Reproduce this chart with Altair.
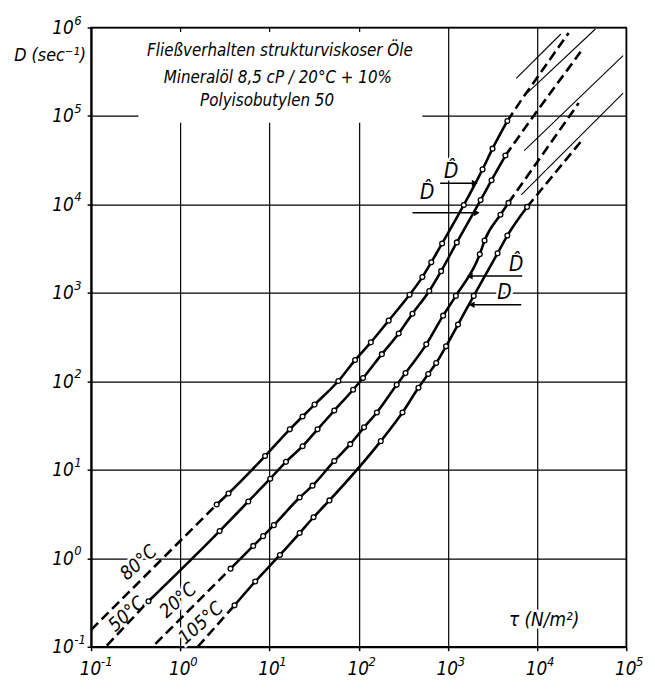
import altair as alt
import pandas as pd

FONT = "Liberation Sans Narrow, DejaVu Sans Condensed, Liberation Sans, sans-serif"

# ---------------- data ----------------
x_ticks = [0.1, 1, 10, 100, 1000, 10000, 100000]
y_ticks = [0.1, 1, 10, 100, 1000, 10000, 100000, 1000000]
x_exp = ["-1", "0", "1", "2", "3", "4", "5"]
y_exp = ["-1", "0", "1", "2", "3", "4", "5", "6"]

curves = ["A", "B", "C", "D"]

# dashed low-stress extensions
A_low_tau = [0.1, 2.56]
A_low_D = [0.155, 4.06]
B_low_tau = [0.15, 0.44]
B_low_D = [0.103, 0.327]
C_low_tau = [0.526, 3.66]
C_low_D = [0.108, 0.763]
D_low_tau = [1.57, 4.06]
D_low_D = [0.1, 0.294]

# measured points (solid curves with open circles)
A_tau = [2.56, 3.47, 8.93, 16.9, 23.5, 32.0, 59.2, 91.2, 137, 217, 372, 518, 652, 863, 1510, 2450, 3170, 4650]
A_D = [4.06, 5.40, 14.3, 28.7, 40.1, 54.6, 101, 174, 276, 486, 951, 1510, 2220, 3620, 9860, 24900, 42700, 87900]
B_tau = [0.44, 2.76, 5.79, 10.2, 15.3, 23.5, 34.6, 53.3, 86.7, 112, 182, 281, 401, 619, 841, 1260, 2330, 3090, 4420]
B_D = [0.327, 2.03, 4.39, 7.93, 12.3, 18.5, 28.7, 46.8, 80.4, 109, 203, 348, 582, 1050, 1760, 3720, 11200, 18800, 35700]
C_tau = [3.66, 6.58, 8.49, 11.2, 21.8, 30.4, 53.3, 80.4, 115, 160, 267, 335, 573, 885, 1230, 2280, 2580, 3890, 4780]
C_D = [0.763, 1.38, 1.78, 2.37, 4.86, 6.62, 12.6, 19.5, 30.2, 44.5, 91.4, 124, 262, 553, 925, 2730, 3910, 7640, 10400]
D_tau = [4.06, 6.92, 13.1, 21.8, 31.2, 47.0, 177, 310, 468, 603, 740, 955, 1300, 1950, 3610, 4650, 7740]
D_D = [0.294, 0.546, 1.09, 1.93, 2.91, 4.51, 21.1, 44.5, 84.5, 121, 161, 249, 439, 925, 2800, 4450, 9380]

# dashed high-stress extensions
A_high_tau = [4650, 6650, 22600]
A_high_D = [87900, 151000, 869000]
B_high_tau = [4420, 8810, 30800]
B_high_D = [35700, 95100, 532000]
C_high_tau = [4780, 29300]
C_high_D = [10400, 140000]
D_high_tau = [7740, 31600]
D_high_D = [9380, 52600]

# thin asymptote lines (D-hat)
thin_tau_start = [5850, 7740, 7180, 6650]
thin_D_start = [266000, 181000, 40600, 12800]
thin_tau_end = [18500, 45100, 92300, 92300]
thin_D_end = [845000, 962000, 481000, 181000]

# temperature labels
temp_labels = ["80°C", "50°C", "20°C", "105°C"]
temp_tau = [0.340, 0.251, 0.946, 1.70]
temp_D = [0.891, 0.234, 0.335, 0.185]

# title block
title_lines = ["Fließverhalten strukturviskoser Öle", "Mineralöl 8,5 cP / 20°C + 10%", "Polyisobutylen 50"]
title_tau = [13.1, 12.4, 9.4]
title_D = [546000, 266000, 147000]

# annotations
ann_text = ["D̂", "D̂", "D̂", "D"]
ann_tau = [1090, 587, 5850, 4300]
ann_D = [23100, 13400, 2060, 1000]
arrow_tau_start = [820, 401, 6820, 6650]
arrow_tau_end = [2000, 2110, 1760, 1850]
arrow_D = [17400, 8040, 1550, 735]
arrow_shape = ["triangle-right", "triangle-right", "triangle-left", "triangle-left"]

x_title = "τ (N/m²)"
x_title_tau = [12000]
x_title_D = [0.200]

# white area behind the title block (grid lines interrupted there)
mask_tau = [0.34]
mask_tau2 = [518]
mask_D = [83600]
mask_D2 = [891000]

# ---------------- build tables ----------------
low = {"A": (A_low_tau, A_low_D), "B": (B_low_tau, B_low_D), "C": (C_low_tau, C_low_D), "D": (D_low_tau, D_low_D)}
mid = {"A": (A_tau, A_D), "B": (B_tau, B_D), "C": (C_tau, C_D), "D": (D_tau, D_D)}
high = {"A": (A_high_tau, A_high_D), "B": (B_high_tau, B_high_D), "C": (C_high_tau, C_high_D), "D": (D_high_tau, D_high_D)}

dash_rows, solid_rows = [], []
for c in curves:
    for part, src in (("low", low), ("high", high)):
        t, d = src[c]
        for i, (a, b) in enumerate(zip(t, d)):
            dash_rows.append({"seg": c + part, "ord": i, "tau": a, "D": b})
    t, d = mid[c]
    for i, (a, b) in enumerate(zip(t, d)):
        solid_rows.append({"seg": c, "ord": i, "tau": a, "D": b})
dash_df = pd.DataFrame(dash_rows)
solid_df = pd.DataFrame(solid_rows)

thin_df = pd.DataFrame({"tau": thin_tau_start, "tau2": thin_tau_end, "D": thin_D_start, "D2": thin_D_end})
temp_df = pd.DataFrame({"label": temp_labels, "tau": temp_tau, "D": temp_D})
title_df = pd.DataFrame({"label": title_lines, "tau": title_tau, "D": title_D})
ann_df = pd.DataFrame({"label": ann_text, "tau": ann_tau, "D": ann_D})
arrow_df = pd.DataFrame({"tau": arrow_tau_start, "tau2": arrow_tau_end, "D": arrow_D})
head_df = pd.DataFrame({"tau": arrow_tau_end, "D": arrow_D, "shape": arrow_shape})
xt_df = pd.DataFrame({"label": [x_title], "tau": x_title_tau, "D": x_title_D})
mask_df = pd.DataFrame({"tau": mask_tau, "tau2": mask_tau2, "D": mask_D, "D2": mask_D2})
xexp_df = pd.DataFrame({"label": x_exp, "tau": x_ticks, "D": [y_ticks[0]] * len(x_ticks)})
yexp_df = pd.DataFrame({"label": y_exp, "tau": [x_ticks[0]] * len(y_ticks), "D": y_ticks})

# ---------------- scales / axes ----------------
x_axis = alt.Axis(values=x_ticks, labelExpr="'10'", title=None, grid=True,
                  labelAlign="center", labelOffset=-1, labelPadding=9, labelBaseline="top",
                  labelFlush=False, labelOverlap=False)
y_axis = alt.Axis(values=y_ticks, labelExpr="'10'", title="D (sec⁻¹)", grid=True,
                  labelAlign="right", labelBaseline="middle", labelPadding=14,
                  labelFlush=False, labelOverlap=False,
                  titleAngle=0, titleX=-42, titleY=28, titleAlign="center", titleBaseline="middle",
                  titleFont=FONT, titleFontSize=18, titleFontStyle="italic", titleFontWeight="normal",
                  titleColor="black")

xs = alt.Scale(type="log", domain=[0.1, 100000], nice=False)
ys = alt.Scale(type="log", domain=[0.1, 1000000], nice=False)
X = alt.X("tau:Q", scale=xs, axis=x_axis)
Y = alt.Y("D:Q", scale=ys, axis=y_axis)

mask = alt.Chart(mask_df).mark_rect(fill="white").encode(x=X, x2="tau2:Q", y=Y, y2="D2:Q")

thin = alt.Chart(thin_df).mark_rule(color="black", strokeWidth=1.1).encode(x=X, x2="tau2:Q", y=Y, y2="D2:Q")

dashed = alt.Chart(dash_df).mark_line(color="black", strokeWidth=2.6, strokeDash=[10, 5]).encode(
    x=X, y=Y, detail="seg:N", order="ord:Q")

solid = alt.Chart(solid_df).mark_line(color="black", strokeWidth=2.6, interpolate="monotone").encode(
    x=X, y=Y, detail="seg:N", order="ord:Q")

dots = alt.Chart(solid_df).mark_point(shape="circle", filled=True, fill="white", stroke="black",
                                      strokeWidth=1.3, size=24, opacity=1).encode(x=X, y=Y)


def text_layer(df, size, angle=0, halo=False, align="center", dx=0, dy=0):
    kw = dict(font=FONT, fontSize=size, fontStyle="italic", align=align, baseline="middle")
    if angle:
        kw["angle"] = angle
    if dx:
        kw["dx"] = dx
    if dy:
        kw["dy"] = dy
    if halo:
        kw.update(fill="white", stroke="white", strokeWidth=5)
    else:
        kw.update(color="black")
    return alt.Chart(df).mark_text(**kw).encode(x=X, y=Y, text="label:N")


temp_halo = text_layer(temp_df, 19, angle=318, halo=True)
temp_txt = text_layer(temp_df, 19, angle=318)
title_txt = text_layer(title_df, 17)
ann_halo = text_layer(ann_df, 21, halo=True)
ann_txt = text_layer(ann_df, 21)
xt_halo = text_layer(xt_df, 19, halo=True)
xt_txt = text_layer(xt_df, 19)
xexp_txt = text_layer(xexp_df, 13, align="left", dx=10, dy=15)
yexp_txt = text_layer(yexp_df, 13, align="left", dx=-17, dy=-7)

arrows = alt.Chart(arrow_df).mark_rule(color="black", strokeWidth=1.5).encode(x=X, x2="tau2:Q", y=Y)
heads = alt.Chart(head_df).mark_point(filled=True, color="black", size=45, opacity=1).encode(
    x=X, y=Y, shape=alt.Shape("shape:N", scale=None))

chart = alt.layer(
    mask, thin, temp_halo, ann_halo, xt_halo, dashed, solid, dots,
    temp_txt, title_txt, ann_txt, xt_txt, xexp_txt, yexp_txt, arrows, heads
).properties(
    width=541, height=626,
    autosize=alt.AutoSizeParams(type="none"),
    padding={"left": 84, "top": 16, "right": 21, "bottom": 41},
).configure_view(
    stroke="black", strokeWidth=1.5
).configure_axis(
    gridColor="black", gridWidth=1.2, gridOpacity=1,
    domainColor="black", domainWidth=2,
    tickColor="black", tickSize=4, tickWidth=1.5,
    labelFont=FONT, labelFontSize=19, labelFontStyle="italic", labelColor="black",
)

chart.save("out.html", embed_options={"renderer": "svg", "actions": False})
